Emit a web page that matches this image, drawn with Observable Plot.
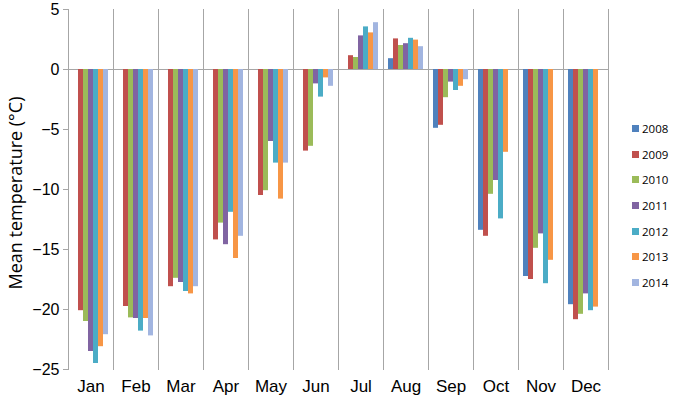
<!DOCTYPE html>
<html>
<head>
<meta charset="utf-8">
<script src="https://cdn.jsdelivr.net/npm/d3@7"></script>
<script src="https://cdn.jsdelivr.net/npm/@observablehq/plot@0.6"></script>
<style>
  body { margin: 0; background: #fff; }
  #wrap { position: relative; width: 675px; height: 404px; overflow: hidden; }
  #ylabel { position: absolute; left: 15px; top: 193px; transform: translate(-50%, -50%) rotate(-90deg);
            white-space: nowrap; font: 18px "Open Sans", sans-serif; color: #000; }
  #legend { position: absolute; left: 632px; top: 116px; font: 11.5px "Open Sans", sans-serif; color: #000; }
  .item { display: flex; align-items: center; height: 25.6px; }
  .sw { width: 7px; height: 7px; margin-right: 3px; }
</style>
</head>
<body>
<div id="wrap"></div>
<script>
const months = ["Jan", "Feb", "Mar", "Apr", "May", "Jun", "Jul", "Aug", "Sep", "Oct", "Nov", "Dec"];
const years = ["2008", "2009", "2010", "2011", "2012", "2013", "2014"];
const colors = ["#4F81BD", "#C0504D", "#9BBB59", "#8064A2", "#4BACC6", "#F79646", "#A2B5E0"];
const yTicks = [-25, -20, -15, -10, -5, 0, 5];

const t2008 = [null, null, null, null, null, null, null, 0.9, -4.9, -13.4, -17.25, -19.6];
const t2009 = [-20.1, -19.75, -18.1, -14.2, -10.5, -6.8, 1.15, 2.55, -4.65, -13.9, -17.5, -20.85];
const t2010 = [-21.0, -20.7, -17.4, -12.8, -10.1, -6.4, 1.0, 2.0, -2.35, -10.4, -14.9, -20.4];
const t2011 = [-23.5, -20.75, -17.75, -14.6, -6.0, -1.2, 2.8, 2.15, -1.05, -9.25, -13.7, -18.7];
const t2012 = [-24.5, -21.8, -18.5, -11.9, -7.8, -2.3, 3.55, 2.6, -1.75, -12.45, -17.85, -20.1];
const t2013 = [-23.1, -20.75, -18.7, -15.75, -10.8, -0.7, 3.05, 2.45, -1.4, -6.9, -15.9, -19.8];
const t2014 = [-22.1, -22.2, -18.1, -13.9, -7.8, -1.4, 3.9, 1.9, -0.85, null, null, null];

const series = [t2008, t2009, t2010, t2011, t2012, t2013, t2014];
const rows = series.flatMap((vals, i) =>
  vals.map((v, j) => ({year: years[i], month: months[j], value: v}))
).filter(d => d.value !== null);

const grey = "#a6a6a6";

const chart = Plot.plot({
  width: 675,
  height: 404,
  marginLeft: 65,
  marginRight: 65,
  marginTop: 9,
  marginBottom: 35,
  style: {fontFamily: "'Liberation Sans', Arial, sans-serif", background: "#fff", color: "#000"},
  fx: {domain: months, padding: 0, label: null, axis: null},
  x: {domain: years, paddingInner: 0, paddingOuter: 0.74, axis: null},
  y: {domain: [-25, 5], label: null, axis: null},
  color: {domain: years, range: colors},
  marks: [
    Plot.frame({anchor: "left", stroke: grey}),
    Plot.frame({anchor: "right", stroke: grey}),
    Plot.ruleY([0], {stroke: grey}),
    Plot.barY(rows, {fx: "month", x: "year", y: "value", fill: "year"}),
    Plot.axisY({ticks: yTicks, tickSize: 5, tickPadding: 4, fontSize: 16, label: null, stroke: grey, fill: "#000"}),
    Plot.axisFx({anchor: "bottom", tickSize: 0, tickPadding: 10, fontSize: 17, label: null, fill: "#000"})
  ]
});

const wrap = document.getElementById("wrap");
wrap.appendChild(chart);

const yl = document.createElement("div");
yl.id = "ylabel";
yl.textContent = "Mean temperature (°C)";
wrap.appendChild(yl);

const legend = document.createElement("div");
legend.id = "legend";
years.forEach((y, i) => {
  const it = document.createElement("div");
  it.className = "item";
  const sw = document.createElement("span");
  sw.className = "sw";
  sw.style.background = colors[i];
  const tx = document.createElement("span");
  tx.textContent = y;
  it.appendChild(sw);
  it.appendChild(tx);
  legend.appendChild(it);
});
wrap.appendChild(legend);
</script>
</body>
</html>
